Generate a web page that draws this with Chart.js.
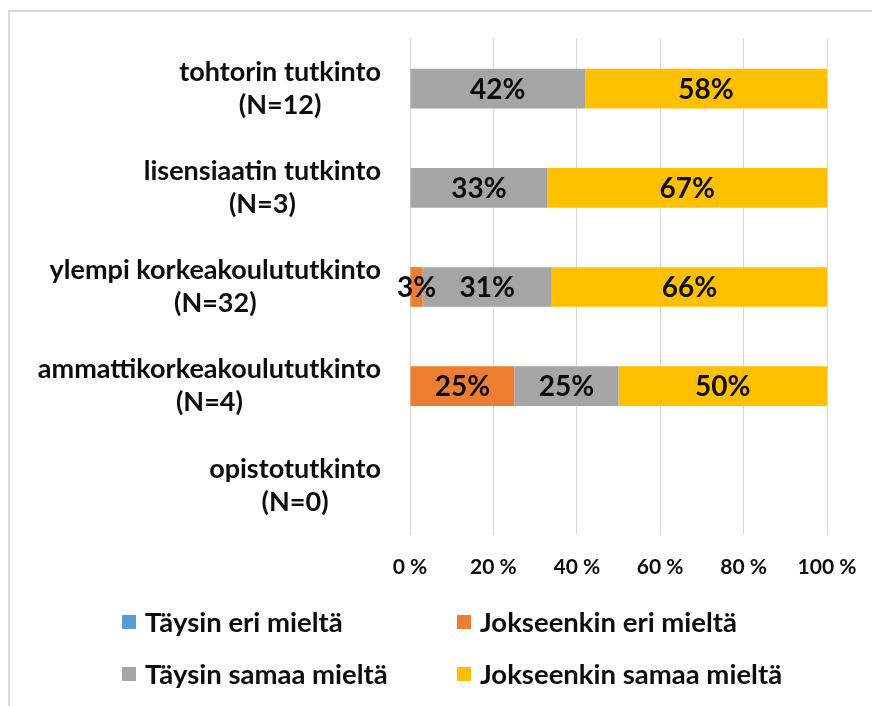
<!DOCTYPE html>
<html>
<head>
<meta charset="utf-8">
<script src="https://cdn.jsdelivr.net/npm/chart.js@4.4.1/dist/chart.umd.min.js"></script>
<style>
  html, body { margin: 0; padding: 0; background: #fff; }
  #frame { position: absolute; left: 8px; top: 10px; width: 900px; height: 720px;
           border-left: 2px solid #d9d9d9; border-top: 2px solid #d9d9d9; }
  #wrap { position: absolute; left: 0; top: 0; width: 872px; height: 706px; }
</style>
</head>
<body>
<div id="frame"></div>
<div id="wrap"><canvas id="chart"></canvas></div>
<script>
// categories (two lines each)
const categories = [
    ["tohtorin tutkinto", "(N=12)"],
    ["lisensiaatin tutkinto", "(N=3)"],
    ["ylempi korkeakoulututkinto", "(N=32)"],
    ["ammattikorkeakoulututkinto", "(N=4)"],
    ["opistotutkinto", "(N=0)"]
]
const seriesNames = ["Täysin eri mieltä", "Jokseenkin eri mieltä", "Täysin samaa mieltä", "Jokseenkin samaa mieltä"]
const seriesColors = ["#5b9bd5", "#ed7d31", "#a5a5a5", "#ffc000"]
// percentages
const taysinEri = [0, 0, 0, 0, 0]
const jokseenkinEri = [0, 0, 3, 25, 0]
const taysinSamaa = [42, 33, 31, 25, 0]
const jokseenkinSamaa = [58, 67, 66, 50, 0]
const xTicks = [0, 20, 40, 60, 80, 100]

const FONT = "Lato"
const TEXT = "#0d0d0d"

// y labels: longest line right aligned at the axis, other lines centered under it
const categoryLabels = {
    id: "categoryLabels",
    afterDraw(chart) {
        const ctx = chart.ctx
        const y = chart.scales.y
        const right = chart.chartArea.left - 29
        ctx.save()
        ctx.font = "bold 27px " + FONT
        ctx.fillStyle = TEXT
        ctx.textAlign = "center"
        ctx.textBaseline = "middle"
        categories.forEach((lines, i) => {
            let w = 0
            lines.forEach(l => { w = Math.max(w, ctx.measureText(l).width) })
            const cx = right - w / 2
            const cy = y.getPixelForTick(i)
            const lh = 33
            lines.forEach((l, j) => {
                ctx.fillText(l, cx, cy + (j - (lines.length - 1) / 2) * lh)
            })
        })
        ctx.restore()
    }
}

// value labels in the middle of each segment
const valueLabels = {
    id: "valueLabels",
    afterDatasetsDraw(chart) {
        const ctx = chart.ctx
        ctx.save()
        ctx.font = "bold 28px " + FONT
        ctx.fillStyle = TEXT
        ctx.textAlign = "center"
        ctx.textBaseline = "middle"
        chart.data.datasets.forEach((ds, di) => {
            const meta = chart.getDatasetMeta(di)
            meta.data.forEach((bar, i) => {
                const v = ds.data[i]
                if (!v) return
                const p = bar.getCenterPoint()
                ctx.fillText(v + "%", p.x, p.y + 1)
            })
        })
        ctx.restore()
    }
}

// legend in two columns under the chart
const gridLegend = {
    id: "gridLegend",
    afterDraw(chart) {
        const ctx = chart.ctx
        const cols = [122, 457]
        const rows = [622, 674]
        ctx.save()
        ctx.font = "bold 27.5px " + FONT
        ctx.textBaseline = "middle"
        ctx.textAlign = "left"
        chart.data.datasets.forEach((ds, i) => {
            const x = cols[i % 2]
            const y = rows[Math.floor(i / 2)]
            ctx.fillStyle = ds.backgroundColor
            ctx.fillRect(x, y - 7, 14, 14)
            ctx.fillStyle = TEXT
            ctx.fillText(ds.label, x + 23, y + 1)
        })
        ctx.restore()
    }
}

const seriesData = [taysinEri, jokseenkinEri, taysinSamaa, jokseenkinSamaa]

new Chart(document.querySelector("#chart"), {
    type: "bar",
    data: {
        labels: categories,
        datasets: seriesData.map((d, i) => ({
            label: seriesNames[i],
            data: d,
            backgroundColor: seriesColors[i],
            categoryPercentage: 0.4,
            barPercentage: 1
        }))
    },
    options: {
        indexAxis: "y",
        responsive: true,
        maintainAspectRatio: false,
        animation: false,
        layout: { padding: { top: 39, right: 45, bottom: 0, left: 0 } },
        plugins: {
            legend: { display: false },
            tooltip: { enabled: false }
        },
        scales: {
            x: {
                stacked: true,
                min: 0,
                max: 100,
                afterBuildTicks: scale => { scale.ticks = xTicks.map(v => ({ value: v })) },
                afterFit: scale => {
                    scale.height = 171
                    scale.paddingLeft = 0
                    scale.paddingRight = 0
                },
                grid: { color: "#d9d9d9", lineWidth: 1, drawTicks: false },
                border: { display: false },
                ticks: {
                    padding: 20,
                    color: TEXT,
                    font: { family: FONT, size: 21, weight: "bold" },
                    callback: v => v + " %"
                }
            },
            y: {
                stacked: true,
                afterFit: scale => { scale.width = 410 },
                grid: { display: false },
                border: { display: false },
                ticks: { display: false }
            }
        }
    },
    plugins: [categoryLabels, valueLabels, gridLegend]
})
</script>
</body>
</html>
